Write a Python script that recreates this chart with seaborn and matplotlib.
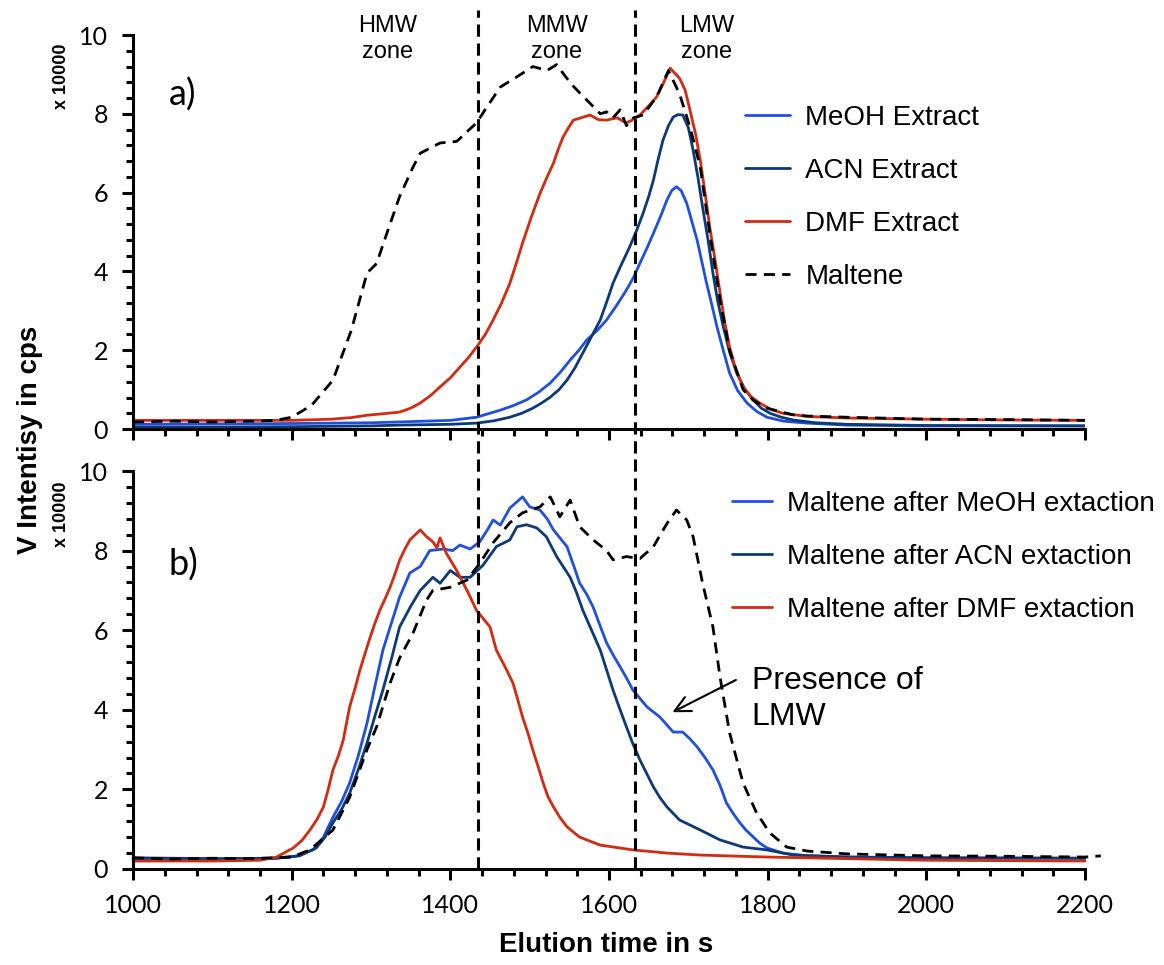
import matplotlib
matplotlib.use("Agg")
from matplotlib import pyplot as plt
from matplotlib.ticker import MultipleLocator
import seaborn as sns

# ---- data, intensity in units of 10000 cps ----
# panel a) extracts + maltene
maltene_a_t = [1000, 1050, 1100, 1150, 1180, 1200, 1225, 1252, 1275, 1295, 1307, 1320, 1336, 1353, 1362,
               1387, 1408, 1433, 1446, 1463, 1484, 1504, 1522, 1534, 1545, 1555, 1572, 1589, 1597,
               1605, 1614, 1622, 1631, 1643, 1660, 1675, 1689, 1702, 1715, 1727, 1740, 1752, 1769,
               1782, 1799, 1832, 1850, 1900, 2000, 2100, 2200]
maltene_a_v = [0.18, 0.2, 0.18, 0.2, 0.22, 0.3, 0.6, 1.24, 2.5, 3.96, 4.2, 4.97, 5.9, 6.65, 7.0,
               7.26, 7.3, 7.77, 8.17, 8.68, 8.94, 9.2, 9.1, 9.25, 8.95, 8.7, 8.35, 8.0, 8.05,
               7.9, 8.1, 7.7, 7.9, 7.97, 8.43, 9.1, 8.5, 7.67, 6.65, 4.97, 3.27, 2.0, 1.0,
               0.73, 0.53, 0.36, 0.33, 0.3, 0.25, 0.24, 0.22]

dmf_a_t = [1000, 1100, 1200, 1250, 1275, 1295, 1316, 1336, 1350, 1362, 1375, 1387, 1400, 1412, 1423,
           1433, 1444, 1454, 1465, 1475, 1483, 1491, 1502, 1513, 1522, 1530, 1536, 1542, 1549,
           1555, 1565, 1576, 1587, 1597, 1610, 1622, 1630, 1639, 1650, 1660, 1669, 1677, 1689,
           1696, 1702, 1709, 1715, 1721, 1727, 1734, 1740, 1746, 1752, 1760, 1769, 1779, 1790,
           1804, 1819, 1850, 1900, 2000, 2100, 2200]
dmf_a_v = [0.22, 0.22, 0.22, 0.25, 0.29, 0.35, 0.39, 0.43, 0.53, 0.66, 0.85, 1.07, 1.3, 1.57, 1.82,
           2.08, 2.4, 2.77, 3.22, 3.7, 4.2, 4.72, 5.38, 5.98, 6.4, 6.75, 7.1, 7.41, 7.65,
           7.84, 7.9, 7.97, 7.85, 7.84, 7.9, 7.77, 7.85, 7.97, 8.2, 8.43, 8.8, 9.16, 8.9,
           8.6, 8.1, 7.5, 6.83, 6.0, 5.13, 4.25, 3.45, 2.7, 2.08, 1.5, 1.07, 0.82, 0.66,
           0.5, 0.4, 0.32, 0.28, 0.25, 0.23, 0.22]

acn_a_t = [1000, 1100, 1200, 1300, 1336, 1400, 1433, 1455, 1475, 1490, 1504, 1515, 1526, 1537, 1547,
           1557, 1567, 1578, 1589, 1597, 1605, 1615, 1626, 1635, 1643, 1650, 1656, 1662, 1668, 1675,
           1681, 1687, 1693, 1700, 1706, 1712, 1718, 1725, 1731, 1737, 1744, 1752, 1761, 1771,
           1782, 1792, 1803, 1817, 1832, 1860, 1900, 2000, 2200]
acn_a_v = [0.05, 0.05, 0.06, 0.08, 0.1, 0.12, 0.15, 0.21, 0.3, 0.4, 0.53, 0.66, 0.81, 1.0, 1.24,
           1.55, 1.93, 2.35, 2.77, 3.22, 3.7, 4.15, 4.62, 5.05, 5.48, 5.9, 6.32, 6.85, 7.33, 7.7,
           7.92, 7.98, 7.97, 7.65, 7.08, 6.4, 5.63, 4.78, 3.96, 3.25, 2.6, 1.95, 1.42, 1.02,
           0.73, 0.53, 0.4, 0.3, 0.23, 0.16, 0.12, 0.09, 0.08]

meoh_a_t = [1000, 1100, 1200, 1300, 1336, 1400, 1433, 1463, 1480, 1496, 1511, 1526, 1539, 1551, 1562,
            1572, 1585, 1597, 1610, 1622, 1631, 1639, 1648, 1656, 1665, 1673, 1679, 1685, 1691,
            1698, 1704, 1711, 1717, 1723, 1730, 1736, 1744, 1752, 1762, 1774, 1786, 1799, 1820,
            1850, 1900, 2000, 2200]
meoh_a_v = [0.12, 0.13, 0.14, 0.16, 0.18, 0.22, 0.3, 0.48, 0.6, 0.74, 0.93, 1.17, 1.45, 1.75, 2.0,
            2.26, 2.5, 2.77, 3.15, 3.53, 3.85, 4.21, 4.6, 4.97, 5.4, 5.81, 6.05, 6.15, 6.05,
            5.73, 5.3, 4.8, 4.25, 3.7, 3.12, 2.6, 2.0, 1.42, 0.98, 0.66, 0.45, 0.3, 0.2,
            0.15, 0.1, 0.08, 0.08]

# panel b) maltene after extraction
maltene_b_t = [1000, 1050, 1100, 1150, 1200, 1223, 1252, 1273, 1295, 1307, 1324, 1336, 1353, 1370, 1378,
               1400, 1421, 1437, 1454, 1475, 1491, 1513, 1526, 1538, 1551, 1563, 1580, 1597, 1605,
               1622, 1639, 1656, 1673, 1685, 1698, 1706, 1718, 1731, 1740, 1752, 1769, 1786, 1803,
               1824, 1850, 1900, 2000, 2100, 2200, 2220]
maltene_b_v = [0.28, 0.25, 0.27, 0.26, 0.3, 0.48, 0.98, 1.8, 3.0, 3.57, 4.67, 5.3, 5.93, 6.76, 7.0,
               7.08, 7.26, 7.68, 8.2, 8.7, 8.95, 9.1, 9.35, 8.85, 9.27, 8.6, 8.27, 8.0, 7.77,
               7.85, 7.8, 8.1, 8.68, 9.02, 8.77, 8.35, 7.18, 6.08, 4.82, 3.42, 2.16, 1.41, 0.9,
               0.55, 0.45, 0.38, 0.33, 0.32, 0.3, 0.33]

meoh_b_t = [1000, 1100, 1180, 1205, 1227, 1240, 1252, 1263, 1273, 1284, 1295, 1305, 1315, 1326, 1336,
            1349, 1362, 1374, 1391, 1403, 1412, 1425, 1437, 1446, 1454, 1463, 1475, 1491, 1500,
            1513, 1522, 1530, 1547, 1555, 1563, 1572, 1580, 1589, 1597, 1606, 1614, 1622, 1630,
            1648, 1664, 1681, 1693, 1702, 1711, 1721, 1731, 1740, 1748, 1757, 1765, 1773, 1782,
            1790, 1799, 1819, 1850, 1900, 2000, 2200]
meoh_b_v = [0.25, 0.25, 0.27, 0.32, 0.48, 0.8, 1.3, 1.7, 2.16, 2.85, 3.67, 4.6, 5.5, 6.2, 6.83,
            7.44, 7.6, 8.0, 8.04, 8.0, 8.14, 8.04, 8.22, 8.5, 8.77, 8.64, 9.07, 9.35, 9.1,
            9.02, 8.8, 8.52, 8.1, 7.65, 7.18, 6.9, 6.58, 6.1, 5.68, 5.35, 5.08, 4.8, 4.5,
            4.07, 3.82, 3.44, 3.44, 3.27, 3.07, 2.8, 2.49, 2.1, 1.66, 1.38, 1.16, 0.97, 0.8,
            0.65, 0.53, 0.4, 0.33, 0.3, 0.28, 0.27]

acn_b_t = [1000, 1100, 1180, 1210, 1231, 1242, 1252, 1263, 1273, 1284, 1295, 1305, 1315, 1326, 1336,
           1350, 1362, 1378, 1387, 1400, 1412, 1425, 1441, 1458, 1475, 1484, 1496, 1509, 1521,
           1534, 1551, 1559, 1567, 1578, 1589, 1597, 1605, 1614, 1622, 1630, 1639, 1648, 1656,
           1664, 1673, 1689, 1715, 1740, 1769, 1799, 1832, 1900, 2000, 2200]
acn_b_v = [0.28, 0.26, 0.27, 0.33, 0.53, 0.8, 1.16, 1.5, 1.9, 2.5, 3.17, 3.85, 4.5, 5.3, 6.08,
           6.6, 7.0, 7.33, 7.18, 7.5, 7.33, 7.33, 7.63, 8.1, 8.27, 8.6, 8.65, 8.57, 8.35,
           7.85, 7.33, 6.95, 6.5, 6.0, 5.5, 5.0, 4.5, 4.0, 3.57, 3.15, 2.74, 2.38, 2.06,
           1.8, 1.56, 1.23, 0.98, 0.73, 0.55, 0.48, 0.35, 0.3, 0.28, 0.27]

dmf_b_t = [1000, 1100, 1160, 1181, 1202, 1213, 1223, 1232, 1240, 1246, 1252, 1259, 1265, 1273, 1280,
           1286, 1293, 1299, 1305, 1311, 1318, 1324, 1330, 1336, 1343, 1349, 1362, 1370, 1378,
           1383, 1387, 1395, 1408, 1421, 1433, 1450, 1458, 1471, 1479, 1485, 1491, 1498, 1504,
           1511, 1517, 1523, 1530, 1538, 1547, 1563, 1589, 1630, 1673, 1715, 1800, 2000, 2200]
dmf_b_v = [0.2, 0.2, 0.22, 0.3, 0.53, 0.72, 0.98, 1.25, 1.56, 2.0, 2.49, 2.85, 3.24, 4.07, 4.55,
           5.0, 5.45, 5.83, 6.18, 6.5, 6.8, 7.08, 7.4, 7.76, 8.05, 8.27, 8.52, 8.35, 8.22,
           8.07, 8.32, 7.93, 7.5, 7.0, 6.5, 6.08, 5.5, 5.0, 4.67, 4.25, 3.82, 3.4, 2.99,
           2.55, 2.16, 1.82, 1.56, 1.3, 1.06, 0.8, 0.6, 0.48, 0.4, 0.35, 0.3, 0.22, 0.2]

zone_bounds = [1435, 1633]
zone_labels = ["HMW\nzone", "MMW\nzone", "LMW\nzone"]
zone_label_x = [1321, 1534, 1723]

labels_a = ["MeOH Extract", "ACN Extract", "DMF Extract", "Maltene"]
labels_b = ["Maltene after MeOH extaction", "Maltene after ACN extaction", "Maltene after DMF extaction"]

c_meoh = "#1f4fe0"
c_acn = "#0c3a78"
c_dmf = "#d42a10"
dash = (0, (4, 2.6))

sns.set_style("ticks")
plt.rcParams["font.family"] = ["Liberation Sans", "DejaVu Sans"]
plt.rcParams["text.color"] = "black"
plt.rcParams["axes.labelcolor"] = "black"
plt.rcParams["xtick.color"] = "black"
plt.rcParams["ytick.color"] = "black"

fig = plt.figure(figsize=(11.64, 9.65), dpi=100)
ax1 = fig.add_axes([0.1143, 0.5554, 0.8178, 0.4083])
ax2 = fig.add_axes([0.1143, 0.0995, 0.8178, 0.4124])

lw = 2.0
sns.lineplot(x=meoh_a_t, y=meoh_a_v, ax=ax1, color=c_meoh, lw=lw, label=labels_a[0], estimator=None)
sns.lineplot(x=acn_a_t, y=acn_a_v, ax=ax1, color=c_acn, lw=lw, label=labels_a[1], estimator=None)
sns.lineplot(x=dmf_a_t, y=dmf_a_v, ax=ax1, color=c_dmf, lw=lw, label=labels_a[2], estimator=None)
sns.lineplot(x=maltene_a_t, y=maltene_a_v, ax=ax1, color="black", lw=lw, linestyle=dash,
             label=labels_a[3], estimator=None)

sns.lineplot(x=meoh_b_t, y=meoh_b_v, ax=ax2, color=c_meoh, lw=lw, label=labels_b[0], estimator=None)
sns.lineplot(x=acn_b_t, y=acn_b_v, ax=ax2, color=c_acn, lw=lw, label=labels_b[1], estimator=None)
sns.lineplot(x=dmf_b_t, y=dmf_b_v, ax=ax2, color=c_dmf, lw=lw, label=labels_b[2], estimator=None)
sns.lineplot(x=maltene_b_t, y=maltene_b_v, ax=ax2, color="black", lw=lw, linestyle=dash,
             estimator=None)
for ln in ax2.get_lines():
    ln.set_clip_on(False)

for ax in (ax1, ax2):
    ax.set_xlim(1000, 2200)
    ax.set_ylim(0, 10)
    ax.set_xlabel("")
    ax.set_ylabel("")
    sns.despine(ax=ax)
    for s in ("left", "bottom"):
        ax.spines[s].set_linewidth(2.2)
        ax.spines[s].set_color("black")
    ax.xaxis.set_major_locator(MultipleLocator(200))
    ax.xaxis.set_minor_locator(MultipleLocator(40))
    ax.yaxis.set_major_locator(MultipleLocator(2))
    ax.yaxis.set_minor_locator(MultipleLocator(0.4))
    ax.tick_params(which="major", direction="out", length=8, width=2.2, color="black",
                   labelsize=18, pad=10, labelcolor="black")
    ax.tick_params(which="minor", direction="out", length=5, width=2.2, color="black")
    for t in ax.get_xticklabels() + ax.get_yticklabels():
        t.set_fontfamily(["Lato", "DejaVu Sans"])

ax1.tick_params(labelbottom=False)

# zone separators
for xb in zone_bounds:
    ax1.axvline(xb, ymin=-0.06, ymax=1.063, color="black", lw=2.2, linestyle=(0, (4, 2.2)), clip_on=False)
    ax2.axvline(xb, ymin=0, ymax=1.04, color="black", lw=2.2, linestyle=(0, (4, 2.2)), clip_on=False)

for xz, lab in zip(zone_label_x, zone_labels):
    ax1.text(xz, 9.9, lab, ha="center", va="center", fontsize=17, linespacing=1.2)

ax1.text(1063, 8.48, "a)", ha="center", va="center", fontsize=26, family=["Lato", "DejaVu Sans"])
ax2.text(1063, 7.64, "b)", ha="center", va="center", fontsize=26, family=["Lato", "DejaVu Sans"])

# legends
ax1.legend(loc="upper left", bbox_to_anchor=(0.643, 0.822), frameon=False, fontsize=20,
           handlelength=1.62, handletextpad=0.55, labelspacing=0.97, borderpad=0, borderaxespad=0)
ax2.legend(loc="upper left", bbox_to_anchor=(0.629, 0.95), frameon=False, fontsize=20,
           handlelength=1.45, handletextpad=0.55, labelspacing=0.97, borderpad=0, borderaxespad=0)

# "Presence of LMW" note with arrow
ax2.text(1780, 4.27, "Presence of\nLMW", fontsize=23, ha="left", va="center", linespacing=1.25)
ax2.annotate("", xy=(1680, 3.94), xytext=(1760, 4.75),
             arrowprops=dict(arrowstyle="->", color="black", lw=1.5, shrinkA=0, shrinkB=0,
                             mutation_scale=28))

ax2.set_xticks([1000, 1200, 1400, 1600, 1800, 2000, 2200])

fig.text(606 / 1164, 1 - 945 / 965, "Elution time in s", ha="center", va="center",
         fontsize=20, fontweight="bold")
fig.text(30 / 1164, 1 - 440 / 965, "V Intentisy in cps", ha="center", va="center",
         rotation=90, fontsize=20, fontweight="bold")
fig.text(62 / 1164, 1 - 76 / 965, "x 10000", ha="center", va="center", rotation=90,
         fontsize=13, fontweight="bold")
fig.text(62 / 1164, 1 - 514 / 965, "x 10000", ha="center", va="center", rotation=90,
         fontsize=13, fontweight="bold")

fig.savefig("out.png", dpi=100)
